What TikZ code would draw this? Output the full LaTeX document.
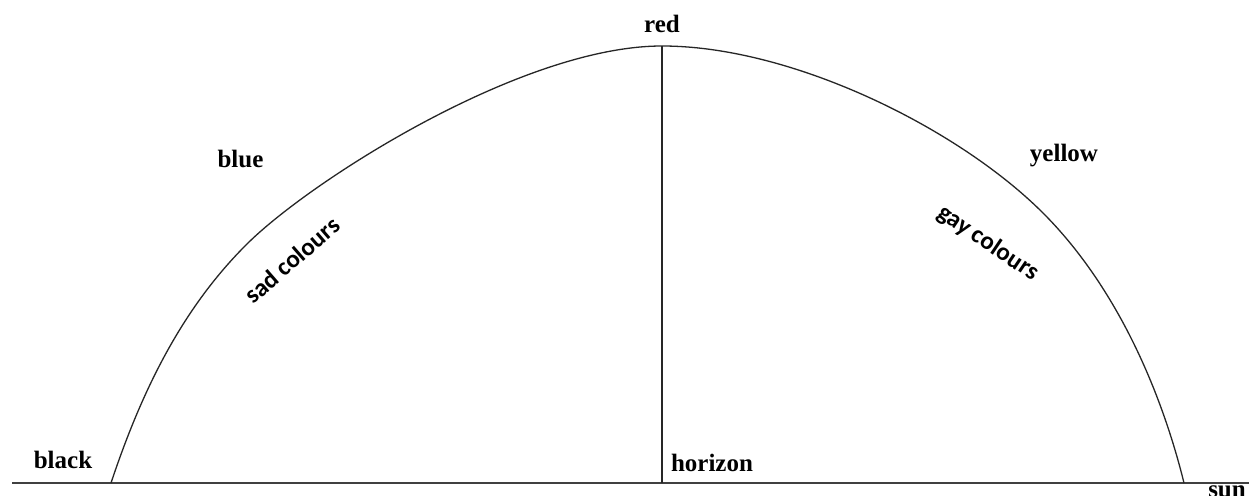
\documentclass[tikz,border=0pt]{standalone}
\usepackage{fontspec}
\setmainfont{Liberation Serif}
\newfontfamily\rotfont{Carlito}
\begin{document}
\begin{tikzpicture}[x=1pt,y=-1pt,
  lbl/.style={font=\fontsize{25}{28}\selectfont\bfseries, inner sep=0pt, anchor=base},
  rlbl/.style={font=\rotfont\fontsize{25}{28}\selectfont\bfseries, inner sep=0pt},
  arcline/.style={line width=1.3pt, black!85},
  axisline/.style={line width=1.8pt, black!75},
  vline/.style={line width=1.4pt, black!85}]
\useasboundingbox (0,0) rectangle (1249,495);
\fill[white] (0,0) rectangle (1249,495);
\coordinate (hl) at (12,483);
\coordinate (hr) at (1249,483);
\coordinate (top) at (662,46);
\coordinate (base) at (662,483);
\coordinate (lfoot) at (111,483);
\coordinate (lmid) at (248,243);
\coordinate (rmid) at (1043,213);
\coordinate (rfoot) at (1184,483);
\draw[axisline] (hl) -- (hr);
\draw[vline] (top) -- (base);
\draw[arcline] (lfoot) .. controls (141,393) and (181,309) .. (lmid)
  .. controls (312,180) and (522,46) .. (top)
  .. controls (792,46) and (958,128) .. (rmid)
  .. controls (1114,284) and (1160,386) .. (rfoot);
\node[lbl] (red) at (662,33) {red};
\node[lbl] (black) at (63,468) {black};
\node[lbl] (horizon) at (712,471) {horizon};
\node[lbl] (blue) at (240.5,167) {blue};
\node[lbl] (yellow) at (1064,161) {yellow};
\node[lbl] (sun) at (1227,497) {sun};
\node[rlbl, rotate=41] (sad) at (292,260) {sad colours};
\node[rlbl, rotate=-34] (gay) at (988,243) {gay colours};
\end{tikzpicture}
\end{document}
